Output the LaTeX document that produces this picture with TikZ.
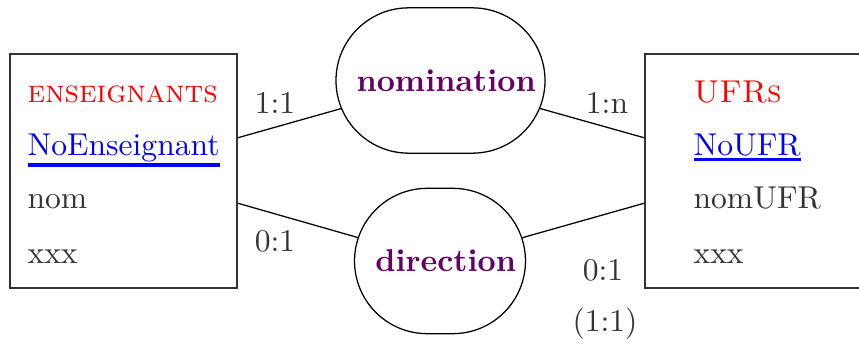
\documentclass[tikz,border=0pt]{standalone}
\usepackage{xcolor}
\usetikzlibrary{backgrounds}
\definecolor{relcol}{RGB}{102,0,102}
\newcommand{\cle}[1]{\setbox0=\hbox{#1}\rlap{\rule[-\dimexpr\dp0+1.8pt\relax]{\wd0}{1.2pt}}\box0}

\begin{document}
\begin{tikzpicture}[x=0.3165pt,y=0.3165pt,yscale=-1,xscale=1,
    entite/.style={draw=black!80, line width=0.4pt, minimum width=71.85pt, minimum height=74.06pt, inner sep=0pt},
    assoc/.style={draw, fill=white, rounded corners=23pt, text=relcol, font=\bfseries, minimum height=46pt, inner sep=0pt},
    attr/.style={anchor=base west, inner sep=0pt, text=black!80},
    card/.style={inner sep=0.75pt, text=black!80}]
    \useasboundingbox (0,0) rectangle (859,346);

    %Shape: Rectangle
    \node [entite] (ens) at (123.5,171) {};
    \node [entite] (ufr) at (758.5,171) {};
    %Shape: Rounded Rect
    \node [assoc, minimum width=66.15pt] (nom) at (440.5,80.5) {\hspace*{3.6pt}nomination};
    \node [assoc, minimum width=54.1pt] (dir) at (440,261) {\hspace*{3.6pt}direction};

    \coordinate (ens1) at (237,138);
    \coordinate (ens2) at (237,203);
    \coordinate (ufr1) at (645,138);
    \coordinate (ufr2) at (645,203);

    %Straight Lines
    \begin{pgfonlayer}{background}
    \draw (ens1) -- (nom.center);
    \draw (ens2) -- (dir.center);
    \draw (ufr1) -- (nom.center);
    \draw (ufr2) -- (dir.center);
    \end{pgfonlayer}

    % Text Node
    \node [attr, text=red] (ensT) at (27,102) {\textsc{enseignants}};
    \node [attr, text=blue] (ensK) at (27,155) {\cle{NoEnseignant}};
    \node [attr] (ensA) at (27,208) {nom};
    \node [attr] (ensB) at (27,263) {xxx};
    % Text Node
    \node [attr, text=red] (ufrT) at (693,102) {\textsc{UFRs}};
    \node [attr, text=blue] (ufrK) at (693,155) {\cle{NoUFR}};
    \node [attr] (ufrA) at (693,208) {nomUFR};
    \node [attr] (ufrB) at (693,263) {xxx};

    % Text Node
    \node [card] (c1) at (275,103) {1:1};
    \node [card] (c2) at (275,241) {0:1};
    \node [card] (c3) at (607,103) {1:n};
    \node [card] (c4) at (603,270) {0:1};
    \node [card] (c5) at (605,324) {(1:1)};

\end{tikzpicture}
\end{document}
